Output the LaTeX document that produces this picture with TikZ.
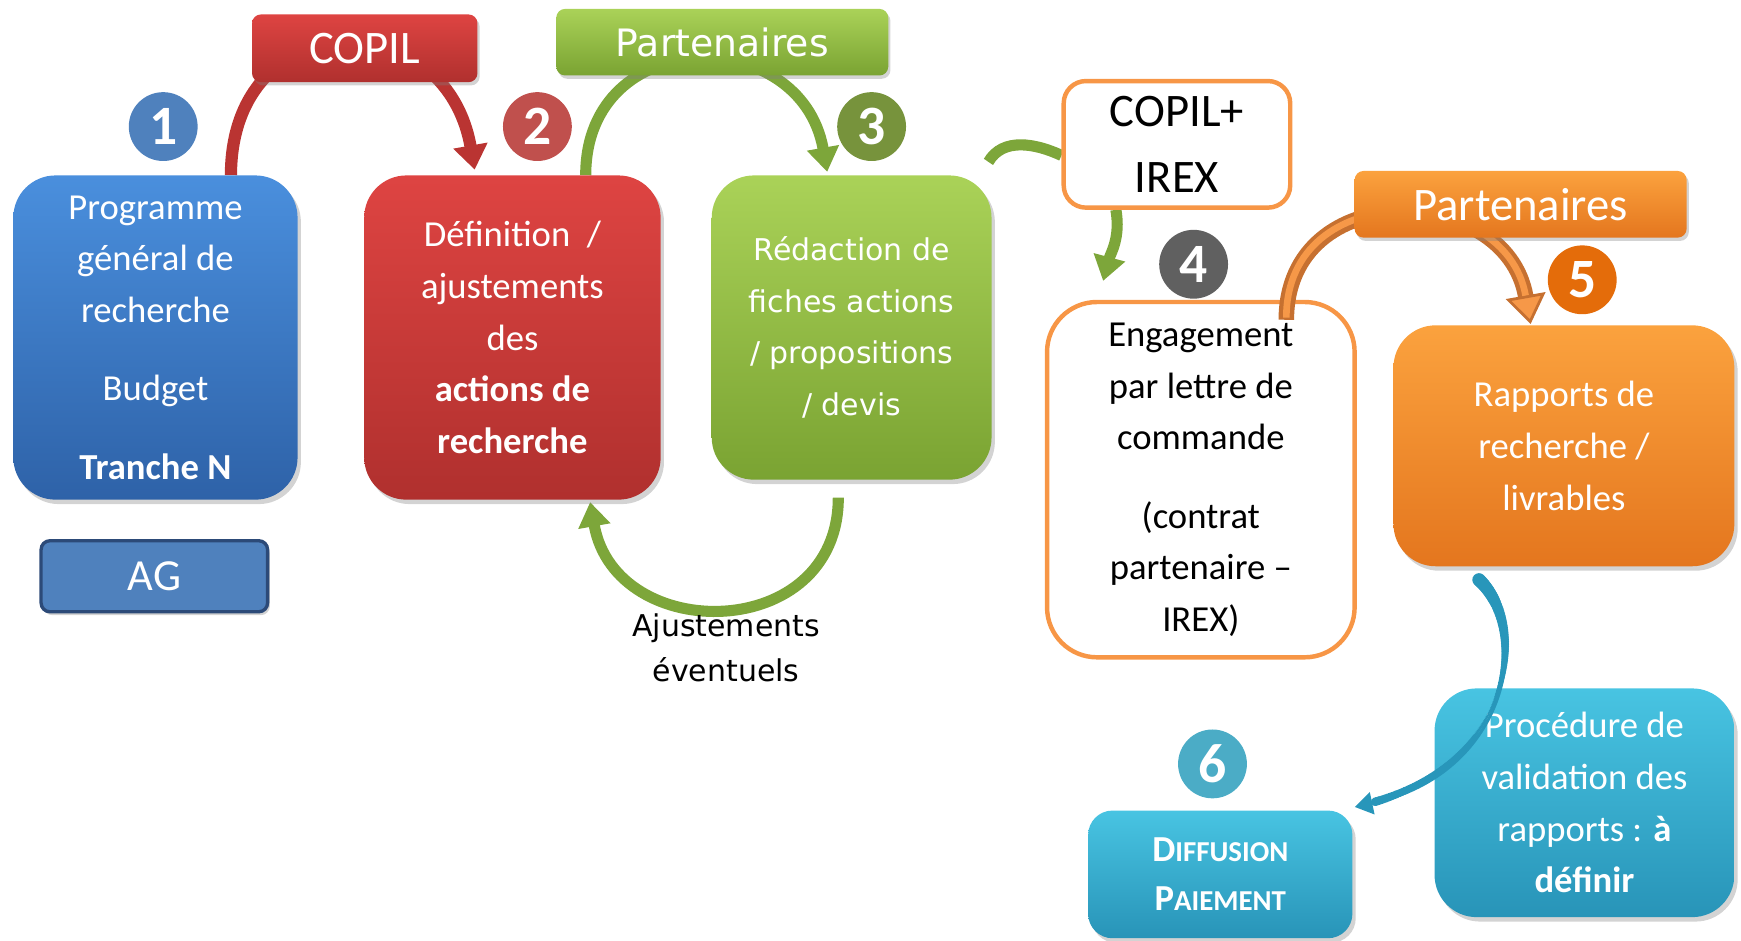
\documentclass[tikz,border=0pt]{standalone}
\usepackage{fontspec}
\setmainfont{Carlito}
\newfontfamily\verd{DejaVu Sans}
\usetikzlibrary{arrows.meta,shadows,decorations.markings}

\definecolor{bleuh}{RGB}{74,143,221}
\definecolor{bleub}{RGB}{46,98,168}
\definecolor{bleu}{RGB}{79,129,189}
\definecolor{bleufonce}{RGB}{44,74,120}
\definecolor{rougeh}{RGB}{222,68,66}
\definecolor{rougeb}{RGB}{176,48,46}
\definecolor{rouge}{RGB}{192,80,77}
\definecolor{rougearc}{RGB}{186,52,50}
\definecolor{verth}{RGB}{170,210,88}
\definecolor{vertb}{RGB}{122,163,50}
\definecolor{vert}{RGB}{119,147,60}
\definecolor{vertarc}{RGB}{125,166,58}
\definecolor{orh}{RGB}{251,162,62}
\definecolor{orb}{RGB}{228,118,30}
\definecolor{orange}{RGB}{228,108,10}
\definecolor{orcadre}{RGB}{247,150,70}
\definecolor{orarc}{RGB}{198,112,48}
\definecolor{orclair}{RGB}{246,152,72}
\definecolor{tealh}{RGB}{72,196,226}
\definecolor{tealb}{RGB}{40,148,184}
\definecolor{teal}{RGB}{75,172,198}
\definecolor{tealarc}{RGB}{40,150,186}
\definecolor{gris}{RGB}{96,96,96}

\newcommand\corps{\fontsize{33}{46.5}\selectfont}
\newcommand\petit{\fontsize{26}{44}\selectfont}

\pgfdeclarelayer{fond}
\pgfsetlayers{fond,main}

\tikzset{
  boite/.style={rounded corners=38pt, text=white, align=center, inner sep=0pt, font=\corps,
    drop shadow={opacity=0.35, shadow xshift=3pt, shadow yshift=-4pt}},
  onglet/.style={rounded corners=8pt, text=white, inner sep=0pt,
    drop shadow={opacity=0.35, shadow xshift=2pt, shadow yshift=-3pt}},
  cadre/.style={draw=orcadre, line width=4pt, fill=white, align=center, inner sep=0pt, font=\corps},
  pastille/.style={circle, minimum size=62pt, inner sep=0pt, text=white,
    font=\fontsize{50}{50}\selectfont\bfseries},
  arcrouge/.style={draw=rougearc, line width=11pt},
  arcvert/.style={draw=vertarc, line width=10pt},
  arcorange/.style={draw=orarc, line width=14pt},
  effile/.style={postaction={decorate, decoration={markings,
    mark=between positions 0 and 0.93 step 1.5pt with {
      \pgfmathsetmacro\rayon{\pgfkeysvalueof{/pgf/decoration/mark info/distance from start}/\pgfdecoratedpathlength}
      \pgfmathsetmacro\rayon{\rayon<0.45 ? 6-10.5*\rayon : 1.3+5.5*(\rayon-0.45)}
      \fill[tealarc] (0,0) circle (\rayon pt);}}}},
}

\begin{document}
\begin{tikzpicture}[x=1pt,y=1pt]
\useasboundingbox (0,0) rectangle (1568,847);

% etape 1
\node[boite, top color=bleuh, bottom color=bleub, minimum width=256pt, minimum height=292pt] (prog) at (140,543)
  {Programme\\général de\\recherche\\[24pt]Budget\\[24pt]\textbf{Tranche N}};
\node[onglet, fill=bleu, draw=bleufonce, line width=3pt, minimum width=204pt, minimum height=64pt,
  font=\fontsize{40}{40}\selectfont] (ag) at (139,328) {AG};
\node[pastille, fill=bleu] (n1) at (147,733) {1};

% etape 2
\node[onglet, top color=rougeh, bottom color=rougeb, minimum width=203pt, minimum height=61pt,
  font=\fontsize{42}{42}\selectfont] (copil) at (328.5,803.5) {COPIL};
\node[boite, top color=rougeh, bottom color=rougeb, minimum width=267pt, minimum height=292pt] (defn) at (461.5,543)
  {Définition~~/\\ajustements\\des\\\textbf{actions de}\\\textbf{recherche}};
\node[pastille, fill=rouge] (n2) at (484,733) {2};

% etape 3
\node[onglet, top color=verth, bottom color=vertb, minimum width=299pt, minimum height=60pt,
  font=\verd\fontsize{34}{34}\selectfont] (partg) at (650.5,809) {Partenaires};
\node[boite, top color=verth, bottom color=vertb, minimum width=252pt, minimum height=274pt,
  font=\verd\fontsize{27}{46.5}\selectfont] (redac) at (767,552)
  {Rédaction de\\fiches actions\\/ propositions\\/ devis};
\node[pastille, fill=vert] (n3) at (785,733) {3};
\node[align=center, font=\verd\fontsize{27}{41}\selectfont] (ajust) at (654,263.5) {Ajustements\\éventuels};

% etape 4
\node[cadre, rounded corners=20pt, minimum width=204pt, minimum height=114pt,
  font=\fontsize{42}{59}\selectfont] (copilirex) at (1060,717) {COPIL+\\IREX};
\node[cadre, rounded corners=45pt, minimum width=277pt, minimum height=320pt] (engag) at (1081.5,415)
  {Engagement\\par lettre de\\commande\\[24pt](contrat\\partenaire --\\IREX)};
\node[pastille, fill=gris] (n4) at (1075,609) {4};

% etape 5
\node[boite, top color=orh, bottom color=orb, minimum width=307pt, minimum height=217pt] (rapp) at (1408.5,445.5)
  {Rapports de\\recherche /\\livrables};
\draw[arcorange, -{Triangle[width=36pt,length=26pt,fill=orclair,line width=2.5pt]}] ([xshift=77pt,yshift=-18pt]engag.north) to[out=90,in=100,looseness=1.5] ([xshift=-30pt,yshift=1pt]rapp.north);
\draw[orclair, line width=6pt, shorten >=26pt, shorten <=2pt] ([xshift=77pt,yshift=-18pt]engag.north) to[out=90,in=100,looseness=1.5] ([xshift=-30pt,yshift=1pt]rapp.north);
\node[onglet, top color=orh, bottom color=orb, minimum width=299pt, minimum height=60pt,
  font=\fontsize{42}{42}\selectfont] (parto) at (1369.5,663) {Partenaires};
\node[pastille, fill=orange] (n5) at (1425,595) {5};

% etape 6
\node[boite, top color=tealh, bottom color=tealb, minimum width=270pt, minimum height=206pt] (valid) at (1427,124)
  {Procédure de\\validation des\\rapports : \textbf{à}\\\textbf{définir}};
\node[boite, rounded corners=22pt, top color=tealh, bottom color=tealb, minimum width=238pt, minimum height=115pt,
  font=\fontsize{33}{44}\selectfont\bfseries] (diff) at (1099,59.5)
  {D{\petit IFFUSION}\\P{\petit AIEMENT}};
\node[pastille, fill=teal] (n6) at (1092,159) {6};

% fleches
\begin{pgfonlayer}{fond}
\draw[arcrouge, -{Triangle[width=30pt,length=22pt]}] ([xshift=68pt]prog.north) to[out=90,in=100,looseness=1.8] ([xshift=-34pt,yshift=5pt]defn.north);
\draw[arcvert, -{Triangle[width=28pt,length=22pt]}] ([xshift=66pt]defn.north) to[out=90,in=100,looseness=1.6] ([xshift=-22pt,yshift=3pt]redac.north);
\draw[arcvert, -{Triangle[width=28pt,length=22pt]}] ([xshift=-12pt,yshift=-16pt]redac.south) to[out=-90,in=-80,looseness=1.5] ([xshift=70pt,yshift=-2pt]defn.south);
\draw[arcvert] ([xshift=-3pt,yshift=12pt]redac.north east) to[out=60,in=155] ([yshift=-10pt]copilirex.west);
\draw[arcvert, -{Triangle[width=28pt,length=22pt]}] ([xshift=-55pt]copilirex.south) to[out=-80,in=75] ([xshift=-88pt,yshift=17pt]engag.north);
\end{pgfonlayer}

% fleche de validation
\coordinate (vs) at ([xshift=-76.5pt,yshift=-12pt]rapp.south);
\coordinate (ve) at ([xshift=2pt,yshift=3pt]diff.north east);
\draw[tealarc, line width=2.6pt, effile, -{Triangle[width=20pt,length=16pt]}] (vs) .. controls +(48,-45) and +(140,30) .. (ve);
\end{tikzpicture}
\end{document}
